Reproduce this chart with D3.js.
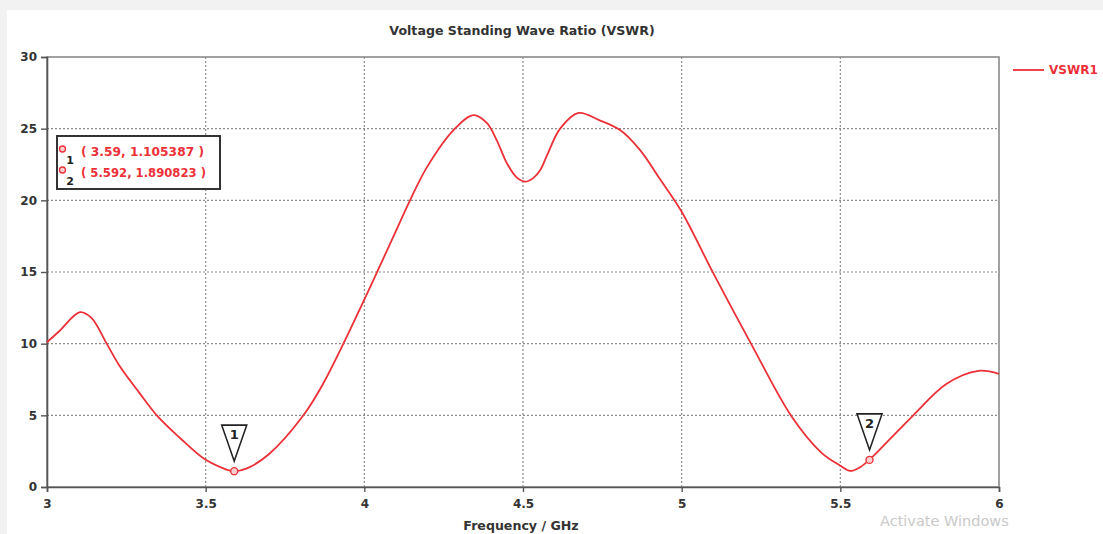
<!DOCTYPE html>
<html>
<head>
<meta charset="utf-8">
<script src="https://cdnjs.cloudflare.com/ajax/libs/d3/7.8.5/d3.min.js"></script>
<style>
  body { margin: 0; background: #f2f2f2; }
  #chart { width: 1103px; height: 534px; overflow: hidden; }
  text { font-family: "DejaVu Sans", Verdana, sans-serif; }
</style>
</head>
<body>
<div id="chart"></div>
<script>
// frequency (GHz) and VSWR
var freq = [3.0, 3.04, 3.104, 3.14, 3.188, 3.23, 3.29, 3.346, 3.42, 3.493, 3.55, 3.587, 3.63, 3.7, 3.808, 3.87, 3.934, 4.03, 4.09, 4.144, 4.197, 4.281, 4.344, 4.386, 4.417, 4.449, 4.48, 4.507, 4.532, 4.554, 4.575, 4.617, 4.675, 4.74, 4.806, 4.869, 4.931, 5.0, 5.1, 5.221, 5.347, 5.44, 5.499, 5.531, 5.56, 5.591, 5.65, 5.73, 5.835, 5.935, 6.0];
var vswr = [10.1, 10.9, 12.2, 11.8, 10.0, 8.4, 6.6, 5.0, 3.4, 2.0, 1.35, 1.1, 1.3, 2.3, 5.0, 7.2, 10.0, 14.5, 17.4, 20.0, 22.3, 24.9, 25.95, 25.4, 24.2, 22.6, 21.6, 21.3, 21.55, 22.1, 23.1, 25.0, 26.1, 25.6, 24.9, 23.5, 21.5, 19.2, 14.9, 9.9, 4.9, 2.4, 1.5, 1.12, 1.35, 1.89, 3.2, 5.0, 7.2, 8.1, 7.9];

var xTicks = [3, 3.5, 4, 4.5, 5, 5.5, 6];
var xTickLabels = ["3", "3.5", "4", "4.5", "5", "5.5", "6"];
var yTicks = [0, 5, 10, 15, 20, 25, 30];

var markerIds = ["1", "2"];
var markerFreq = [3.59, 5.592];
var markerVal = [1.105387, 1.890823];

var seriesName = "VSWR1";
var red = "#ec3038";

var w = 1103, h = 534;
var margin = {left: 47, right: 104, top: 57, bottom: 47};

var svg = d3.select("#chart").append("svg").attr("width", w).attr("height", h);

// white panel on grey page
svg.append("rect").attr("x", 7).attr("y", 10).attr("width", w - 7).attr("height", h - 10).attr("fill", "#fff");

var x = d3.scaleLinear().domain([3, 6]).range([margin.left, w - margin.right]);
var y = d3.scaleLinear().domain([0, 30]).range([h - margin.bottom, margin.top]);

// grid
var grid = svg.append("g").attr("class", "grid");
grid.selectAll("line.v").data(xTicks.slice(1, -1)).enter().append("line")
    .attr("x1", function(d){ return x(d); }).attr("x2", function(d){ return x(d); })
    .attr("y1", y(30)).attr("y2", y(0))
    .attr("stroke", "#8c8c8c").attr("stroke-width", 1.2).attr("stroke-dasharray", "2,2");
grid.selectAll("line.h").data(yTicks.slice(1, -1)).enter().append("line")
    .attr("x1", x(3)).attr("x2", x(6))
    .attr("y1", function(d){ return y(d); }).attr("y2", function(d){ return y(d); })
    .attr("stroke", "#8c8c8c").attr("stroke-width", 1.2).attr("stroke-dasharray", "2,2");

// frame
svg.append("rect").attr("x", x(3)).attr("y", y(30))
    .attr("width", x(6) - x(3)).attr("height", y(0) - y(30))
    .attr("fill", "none").attr("stroke", "#8a8a8a").attr("stroke-width", 1.6);

// axes
var xAxis = d3.axisBottom(x).tickValues(xTicks).tickSize(5).tickPadding(7)
    .tickFormat(function(d, i){ return xTickLabels[i]; });
var gx = svg.append("g").attr("transform", "translate(0," + y(0) + ")").call(xAxis);
gx.select(".domain").attr("stroke", "#555").attr("stroke-width", 1.6);
gx.selectAll(".tick line").attr("stroke", "#555").attr("stroke-width", 1.4);
gx.selectAll("text").attr("font-size", 12).attr("font-weight", "bold").attr("fill", "#333")
    .attr("font-family", "DejaVu Sans");

var yAxis = d3.axisLeft(y).tickValues(yTicks).tickSize(6).tickPadding(4);
var gy = svg.append("g").attr("transform", "translate(" + x(3) + ",0)").call(yAxis);
gy.select(".domain").attr("stroke", "#555").attr("stroke-width", 1.6);
gy.selectAll(".tick line").attr("stroke", "#555").attr("stroke-width", 1.4);
gy.selectAll("text").attr("font-size", 12).attr("font-weight", "bold").attr("fill", "#333")
    .attr("font-family", "DejaVu Sans");

// title + axis label
svg.append("text").attr("x", 522).attr("y", 35).attr("text-anchor", "middle")
    .attr("font-size", 12.6).attr("font-weight", "bold").attr("fill", "#333")
    .text("Voltage Standing Wave Ratio (VSWR)");
svg.append("text").attr("x", 521).attr("y", 530).attr("text-anchor", "middle")
    .attr("font-size", 12.6).attr("font-weight", "bold").attr("fill", "#333")
    .text("Frequency / GHz");

// curve
var data = freq.map(function(f, i){ return {f: f, v: vswr[i]}; });
var line = d3.line().x(function(d){ return x(d.f); }).y(function(d){ return y(d.v); })
    .curve(d3.curveCatmullRom.alpha(0.5));
svg.append("path").datum(data).attr("d", line)
    .attr("fill", "none").attr("stroke", red).attr("stroke-width", 1.8);

// markers
var mk = svg.selectAll("g.marker").data(markerIds).enter().append("g").attr("class", "marker");
mk.append("path").attr("d", function(d, i){
        var px = x(markerFreq[i]), py = y(markerVal[i]) - 10;
        return "M" + (px - 12.5) + "," + (py - 36) + "L" + (px + 12.5) + "," + (py - 36) + "L" + px + "," + py + "Z";
    })
    .attr("fill", "#fff").attr("stroke", "#222").attr("stroke-width", 1.6).attr("stroke-linejoin", "miter");
mk.append("text").attr("x", function(d, i){ return x(markerFreq[i]); })
    .attr("y", function(d, i){ return y(markerVal[i]) - 32; })
    .attr("text-anchor", "middle").attr("font-size", 13).attr("font-weight", "bold")
    .attr("font-family", "Liberation Serif").attr("fill", "#222")
    .text(function(d){ return d; });
mk.append("circle").attr("cx", function(d, i){ return x(markerFreq[i]); })
    .attr("cy", function(d, i){ return y(markerVal[i]); })
    .attr("r", 3.5).attr("fill", "#fbd0d2").attr("stroke", red).attr("stroke-width", 1.4);

// marker readout box
var box = svg.append("g");
box.append("rect").attr("x", 57).attr("y", 136).attr("width", 163).attr("height", 53)
    .attr("fill", "#fff").attr("stroke", "#333").attr("stroke-width", 2);
markerIds.forEach(function(id, i){
    var ry = 149 + i * 21;
    box.append("circle").attr("cx", 62.5).attr("cy", ry).attr("r", 3)
        .attr("fill", "#fbd0d2").attr("stroke", red).attr("stroke-width", 1.3);
    box.append("text").attr("x", 70).attr("y", ry + 15).attr("text-anchor", "middle")
        .attr("font-size", 11).attr("font-weight", "bold").attr("font-family", "Liberation Serif")
        .attr("fill", "#222").text(id);
    box.append("text").attr("x", 81).attr("y", ry + 7)
        .attr("font-size", 12.5).attr("font-weight", "bold").attr("fill", red)
        .attr("textLength", i === 0 ? 123 : 125).attr("lengthAdjust", "spacingAndGlyphs")
        .text("( " + markerFreq[i] + ", " + markerVal[i] + " )");
});

// legend
svg.append("line").attr("x1", 1013).attr("x2", 1044).attr("y1", 70).attr("y2", 70)
    .attr("stroke", red).attr("stroke-width", 1.8);
svg.append("text").attr("x", 1049).attr("y", 74).attr("font-size", 12).attr("font-weight", "bold")
    .attr("fill", red).text(seriesName);

// watermark
svg.append("text").attr("x", 880).attr("y", 526).attr("font-size", 14.5)
    .attr("font-family", "Open Sans").attr("fill", "#c9c9c9").text("Activate Windows");
</script>
</body>
</html>
